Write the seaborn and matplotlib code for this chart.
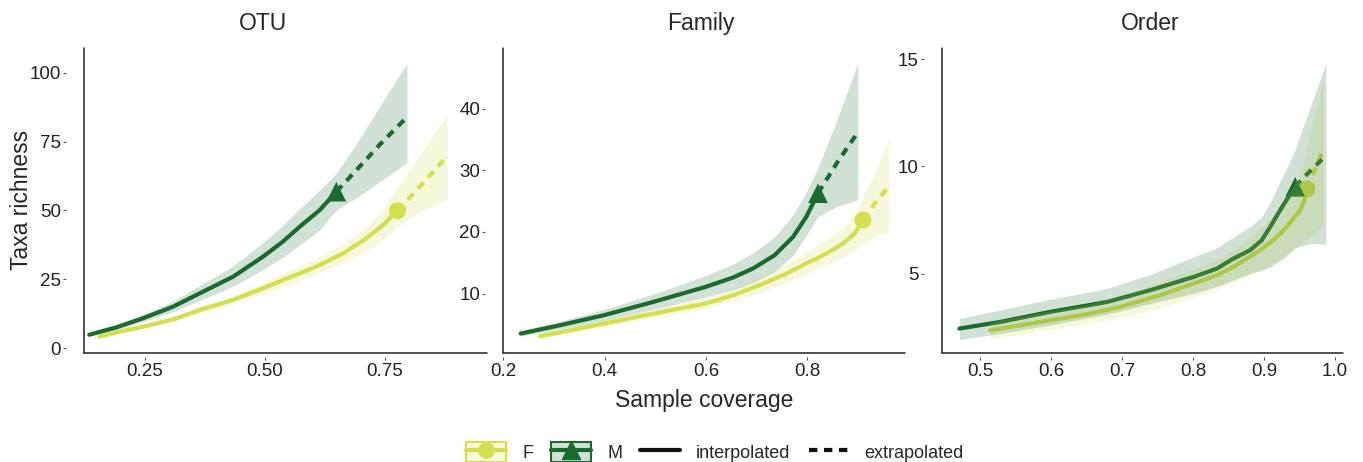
import numpy as np
import pandas as pd
import matplotlib
matplotlib.use("Agg")
import matplotlib.pyplot as plt
import seaborn as sns
from matplotlib.lines import Line2D
from matplotlib.patches import Patch

sns.set_style("white")
plt.rcParams['font.family'] = ['Liberation Sans', 'DejaVu Sans']
plt.rcParams['lines.solid_joinstyle'] = 'round'
plt.rcParams['lines.dash_capstyle'] = 'butt'

# colours per sex
col_F = "#d4df50"
col_M = "#1b6b30"

# ---- OTU ----
otu_F_x = [0.156, 0.198, 0.2465, 0.309, 0.3646, 0.434, 0.4965, 0.552, 0.6076, 0.663, 0.7118, 0.7465, 0.7764]
otu_F_y = [4.12, 5.94, 7.76, 10.4, 13.8, 17.5, 21.7, 25.7, 29.6, 34.4, 39.9, 44.7, 49.9]
otu_F_lo = [3.8, 5.5, 7.1, 9.6, 12.6, 16.0, 19.7, 23.3, 26.8, 30.9, 35.4, 39.4, 44.1]
otu_F_hi = [4.4, 6.4, 8.4, 11.3, 15.0, 19.0, 23.8, 28.2, 32.6, 37.9, 44.2, 50.3, 58.7]
otu_F_ex_x = [0.7764, 0.83, 0.879]
otu_F_ex_y = [49.9, 60.0, 69.6]
otu_F_ex_lo = [44.1, 50.0, 54.1]
otu_F_ex_hi = [58.7, 72.0, 84.7]

otu_M_x = [0.135, 0.191, 0.2465, 0.309, 0.365, 0.434, 0.4965, 0.538, 0.573, 0.615, 0.649]
otu_M_y = [4.85, 7.5, 10.8, 15.0, 19.9, 25.9, 33.2, 38.7, 44.1, 50.2, 56.8]
otu_M_lo = [4.4, 6.7, 9.6, 13.2, 17.3, 22.4, 28.5, 33.0, 37.4, 43.0, 50.2]
otu_M_hi = [5.3, 8.4, 12.2, 17.0, 22.7, 29.8, 38.3, 44.7, 50.7, 57.5, 63.5]
otu_M_ex_x = [0.649, 0.69, 0.74, 0.796]
otu_M_ex_y = [56.8, 64.5, 74.0, 83.9]
otu_M_ex_lo = [50.2, 54.5, 60.5, 67.4]
otu_M_ex_hi = [63.5, 74.0, 88.0, 103.5]

# ---- Family ----
fam_F_x = [0.2724, 0.3316, 0.3986, 0.4959, 0.5992, 0.6537, 0.7061, 0.7523, 0.7984, 0.8379, 0.8707, 0.8938, 0.9101]
fam_F_y = [3.05, 4.02, 5.11, 6.74, 8.37, 9.72, 11.35, 12.98, 14.89, 16.5, 18.14, 19.77, 21.94]
fam_F_lo = [2.75, 3.6, 4.6, 6.1, 7.6, 8.8, 10.2, 11.6, 13.2, 14.6, 15.9, 17.0, 18.1]
fam_F_hi = [3.35, 4.45, 5.6, 7.4, 9.2, 10.7, 12.6, 14.5, 16.8, 18.8, 20.6, 22.8, 25.7]
fam_F_ex_x = [0.9101, 0.935, 0.961]
fam_F_ex_y = [21.94, 24.8, 27.4]
fam_F_ex_lo = [18.1, 19.3, 19.9]
fam_F_ex_hi = [25.7, 30.0, 35.0]

fam_M_x = [0.2343, 0.3118, 0.3986, 0.4959, 0.5992, 0.6537, 0.6931, 0.7359, 0.772, 0.7984, 0.8213]
fam_M_y = [3.49, 4.84, 6.47, 8.63, 11.07, 12.6, 14.07, 16.24, 19.2, 22.5, 26.3]
fam_M_lo = [3.1, 4.2, 5.6, 7.4, 9.4, 10.6, 11.8, 13.6, 16.2, 19.5, 22.5]
fam_M_hi = [3.9, 5.5, 7.4, 9.9, 12.9, 14.8, 16.6, 19.2, 22.8, 26.5, 30.5]
fam_M_ex_x = [0.8213, 0.86, 0.9]
fam_M_ex_y = [26.3, 31.4, 36.2]
fam_M_ex_lo = [22.5, 24.2, 25.2]
fam_M_ex_hi = [30.5, 38.5, 47.5]

# ---- Order ----
ord_F_x = [0.5141, 0.5563, 0.5986, 0.6503, 0.6972, 0.7535, 0.8005, 0.8333, 0.8568,
           0.8756, 0.8944, 0.9131, 0.9272, 0.9413, 0.9507, 0.9568, 0.9601]
ord_F_y = [2.35, 2.58, 2.82, 3.10, 3.44, 3.99, 4.53, 4.92, 5.31,
           5.70, 6.09, 6.56, 7.02, 7.57, 7.96, 8.43, 8.95]
ord_F_lo = [1.96, 2.15, 2.4, 2.65, 2.95, 3.4, 3.9, 4.25, 4.6,
            4.9, 5.2, 5.5, 5.8, 6.1, 6.4, 6.5, 6.6]
ord_F_hi = [2.75, 3.0, 3.25, 3.55, 3.95, 4.6, 5.2, 5.65, 6.1,
            6.6, 7.1, 7.7, 8.4, 9.1, 9.8, 10.3, 10.9]
ord_F_ex_x = [0.9601, 0.972, 0.983]
ord_F_ex_y = [8.95, 9.9, 10.8]
ord_F_ex_lo = [6.6, 6.9, 7.2]
ord_F_ex_hi = [10.9, 12.5, 14.0]

ord_M_x = [0.4709, 0.5282, 0.5986, 0.6784, 0.7394, 0.8005, 0.8333, 0.8568, 0.8803,
           0.8967, 0.9085, 0.9225, 0.9343, 0.9437]
ord_M_y = [2.43, 2.74, 3.21, 3.67, 4.22, 4.84, 5.23, 5.70, 6.09,
           6.56, 7.18, 7.96, 8.58, 9.05]
ord_M_lo = [1.92, 2.2, 2.6, 3.1, 3.6, 4.07, 4.4, 4.7, 5.0,
            5.15, 5.3, 5.6, 5.9, 6.2]
ord_M_hi = [2.9, 3.3, 3.8, 4.3, 4.95, 5.78, 6.2, 6.7, 7.2,
            7.65, 8.3, 9.3, 10.1, 10.8]
ord_M_ex_x = [0.9437, 0.965, 0.987]
ord_M_ex_y = [9.05, 9.8, 10.5]
ord_M_ex_lo = [6.2, 6.4, 6.37]
ord_M_ex_hi = [10.8, 12.8, 14.8]


def make_df(level, sex, method, x, y, lo, hi):
    return pd.DataFrame({'level': level, 'sex': sex, 'method': method,
                         'coverage': x, 'richness': y, 'lo': lo, 'hi': hi})


df = pd.concat([
    make_df('OTU', 'F', 'interpolated', otu_F_x, otu_F_y, otu_F_lo, otu_F_hi),
    make_df('OTU', 'F', 'extrapolated', otu_F_ex_x, otu_F_ex_y, otu_F_ex_lo, otu_F_ex_hi),
    make_df('OTU', 'M', 'interpolated', otu_M_x, otu_M_y, otu_M_lo, otu_M_hi),
    make_df('OTU', 'M', 'extrapolated', otu_M_ex_x, otu_M_ex_y, otu_M_ex_lo, otu_M_ex_hi),
    make_df('Family', 'F', 'interpolated', fam_F_x, fam_F_y, fam_F_lo, fam_F_hi),
    make_df('Family', 'F', 'extrapolated', fam_F_ex_x, fam_F_ex_y, fam_F_ex_lo, fam_F_ex_hi),
    make_df('Family', 'M', 'interpolated', fam_M_x, fam_M_y, fam_M_lo, fam_M_hi),
    make_df('Family', 'M', 'extrapolated', fam_M_ex_x, fam_M_ex_y, fam_M_ex_lo, fam_M_ex_hi),
    make_df('Order', 'F', 'interpolated', ord_F_x, ord_F_y, ord_F_lo, ord_F_hi),
    make_df('Order', 'F', 'extrapolated', ord_F_ex_x, ord_F_ex_y, ord_F_ex_lo, ord_F_ex_hi),
    make_df('Order', 'M', 'interpolated', ord_M_x, ord_M_y, ord_M_lo, ord_M_hi),
    make_df('Order', 'M', 'extrapolated', ord_M_ex_x, ord_M_ex_y, ord_M_ex_lo, ord_M_ex_hi),
], ignore_index=True)

levels = ['OTU', 'Family', 'Order']
xlims = {'OTU': (0.124, 0.9625), 'Family': (0.2, 0.993), 'Order': (0.446, 1.011)}
ylims = {'OTU': (-1.8, 109), 'Family': (0.33, 49.9), 'Order': (1.29, 15.53)}
xticks = {'OTU': [0.25, 0.50, 0.75], 'Family': [0.2, 0.4, 0.6, 0.8],
          'Order': [0.5, 0.6, 0.7, 0.8, 0.9, 1.0]}
xtick_labels = {'OTU': ['0.25', '0.50', '0.75'], 'Family': ['0.2', '0.4', '0.6', '0.8'],
                'Order': ['0.5', '0.6', '0.7', '0.8', '0.9', '1.0']}
yticks = {'OTU': [0, 25, 50, 75, 100], 'Family': [10, 20, 30, 40], 'Order': [5, 10, 15]}
title_x = {'OTU': 0.445, 'Family': 0.492, 'Order': 0.52}

palette = {'F': col_F, 'M': col_M}
markers = {'F': 'o', 'M': '^'}
dash = (0, (2, 1.6))

W, H = 1363, 462
fig = plt.figure(figsize=(W / 100, H / 100), dpi=100)
boxes = [(84, 487), (503.3, 905), (941.7, 1343)]
top, bottom = 48, 353

for level, (l, r) in zip(levels, boxes):
    ax = fig.add_axes([l / W, (H - bottom) / H, (r - l) / W, (bottom - top) / H])
    sub = df[df['level'] == level]

    # lines first, ribbons drawn over them (as in the original)
    for sex in ['F', 'M']:
        for method, ls in [('interpolated', '-'), ('extrapolated', dash)]:
            d = sub[(sub['sex'] == sex) & (sub['method'] == method)]
            sns.lineplot(data=d, x='coverage', y='richness', color=palette[sex],
                         lw=3, linestyle=ls, sort=False, estimator=None, ax=ax)
        obs = sub[(sub['sex'] == sex) & (sub['method'] == 'extrapolated')].iloc[[0]]
        sns.scatterplot(data=obs, x='coverage', y='richness', color=palette[sex],
                        marker=markers[sex], s=200 if sex == 'M' else 150,
                        edgecolor='none', ax=ax, zorder=3)
    for sex in ['F', 'M']:
        d = sub[sub['sex'] == sex].drop_duplicates('coverage')
        ax.fill_between(d['coverage'], d['lo'], d['hi'], color=palette[sex],
                        alpha=0.2, lw=0, zorder=4)

    ax.set_xlim(xlims[level])
    ax.set_ylim(ylims[level])
    ax.set_xticks(xticks[level])
    ax.set_xticklabels(xtick_labels[level])
    ax.set_yticks(yticks[level])
    ax.set_xlabel('')
    ax.set_ylabel('')
    for s in ['top', 'right']:
        ax.spines[s].set_visible(False)
    # ticks sit slightly away from the axis lines
    ax.spines['left'].set_position(('outward', 13))
    ax.spines['bottom'].set_position(('outward', 3))
    ax.spines['left'].set_visible(False)
    ax.spines['bottom'].set_visible(False)
    ax.axvline(xlims[level][0], color='#222222', lw=1.1, clip_on=False)
    ax.axhline(ylims[level][0], color='#222222', lw=1.1, clip_on=False)
    ax.tick_params(axis='both', direction='out', length=2.5, width=0.8,
                   bottom=True, left=True,
                   color='#555555', labelsize=13.5, labelcolor='#222222', pad=1)
    ax.tick_params(axis='x', pad=2)
    ax.set_title(level, fontsize=16.5, x=title_x[level], pad=13)

fig.text(10 / W, 1 - 200 / H, 'Taxa richness', rotation=90, fontsize=16.5,
         va='center', ha='left')
fig.text(704 / W, 1 - 400 / H, 'Sample coverage', fontsize=16.5, ha='center', va='center')

# legend
h_F = (Patch(facecolor=col_F, alpha=0.2, edgecolor='none'),
       Patch(facecolor='none', edgecolor=col_F, lw=1.5),
       Line2D([], [], color=col_F, lw=3, marker='o', markersize=11))
h_M = (Patch(facecolor=col_M, alpha=0.2, edgecolor='none'),
       Patch(facecolor='none', edgecolor=col_M, lw=1.5),
       Line2D([], [], color=col_M, lw=3, marker='^', markersize=13))
h_i = Line2D([], [], color='#111111', lw=3)
h_e = Line2D([], [], color='#111111', lw=3, linestyle=dash)
fig.legend([h_F, h_M, h_i, h_e], ['F', 'M', 'interpolated', 'extrapolated'],
           loc='center', bbox_to_anchor=(715 / W, 1 - 452 / H), ncol=4, frameon=False,
           fontsize=13, handlelength=2.2, handleheight=1.3, columnspacing=1.0,
           handletextpad=0.9)

fig.savefig('out.png', dpi=100)
